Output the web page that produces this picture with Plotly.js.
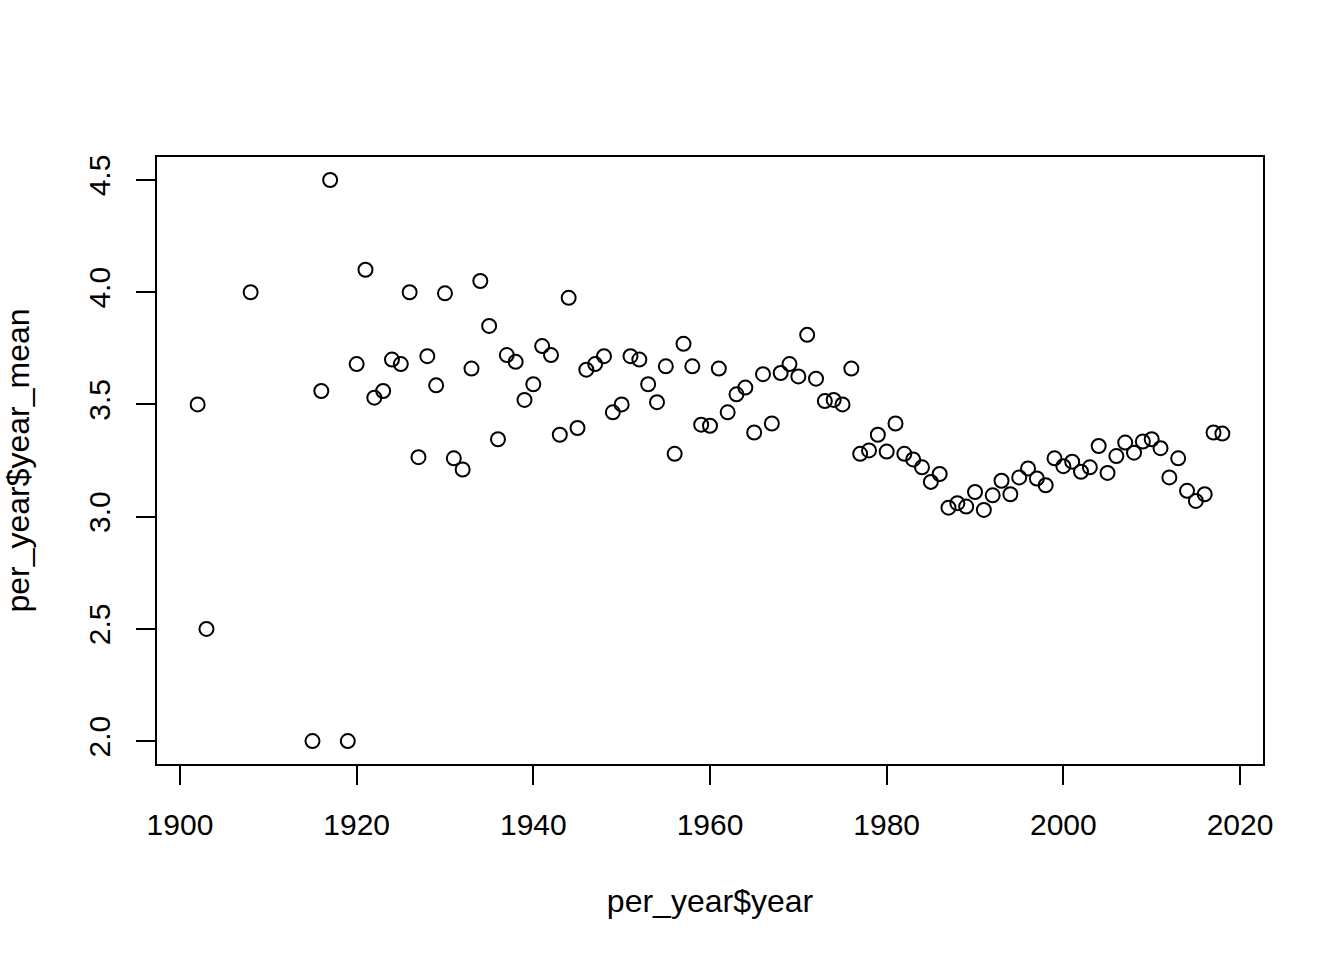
<!DOCTYPE html>
<html>
<head>
<meta charset="utf-8">
<script src="https://cdn.plot.ly/plotly-3.0.1.min.js"></script>
<style>html,body{margin:0;padding:0;background:#fff;}#chart{width:1344px;height:960px;}</style>
</head>
<body>
<div id="chart"></div>
<script>
const years = [1902,1903,1908,1915,1916,1917,1919,1920,1921,1922,1923,1924,1925,1926,1927,1928,1929,1930,
1931,1932,1933,1934,1935,1936,1937,1938,1939,1940,1941,1942,1943,1944,1945,1946,1947,1948,1949,1950,
1951,1952,1953,1954,1955,1956,1957,1958,1959,1960,1961,1962,1963,1964,1965,1966,1967,1968,1969,1970,
1971,1972,1973,1974,1975,1976,1977,1978,1979,1980,1981,1982,1983,1984,1985,1986,1987,1988,1989,1990,
1991,1992,1993,1994,1995,1996,1997,1998,1999,2000,2001,2002,2003,2004,2005,2006,2007,2008,2009,2010,
2011,2012,2013,2014,2015,2016,2017,2018];
const yearMean = [3.50,2.50,4.00,2.00,3.56,4.50,2.00,3.68,4.10,3.53,3.56,3.70,3.68,4.00,3.265,3.715,3.585,3.995,
3.26,3.21,3.66,4.05,3.85,3.345,3.72,3.69,3.52,3.59,3.76,3.72,3.365,3.975,3.395,3.655,3.68,3.715,3.465,3.50,
3.715,3.70,3.59,3.51,3.67,3.28,3.77,3.67,3.41,3.405,3.66,3.465,3.545,3.575,3.375,3.635,3.415,3.64,3.68,3.625,
3.81,3.615,3.515,3.52,3.50,3.66,3.28,3.295,3.365,3.29,3.415,3.28,3.255,3.22,3.155,3.19,3.04,3.06,3.045,3.11,
3.03,3.095,3.16,3.10,3.175,3.215,3.17,3.14,3.26,3.225,3.245,3.20,3.22,3.315,3.195,3.27,3.33,3.285,3.335,3.345,
3.305,3.175,3.26,3.115,3.07,3.10,3.375,3.37];
const xTicks = [1900,1920,1940,1960,1980,2000,2020];
const yTicks = [2.0,2.5,3.0,3.5,4.0,4.5];
const yTickText = ["2.0","2.5","3.0","3.5","4.0","4.5"];
const xLabel = "per_year$year";
const yLabel = "per_year$year_mean";

const tickFont = {family: "Liberation Sans, Arial, Helvetica, sans-serif", size: 30, color: "#000"};
const titleFont = {family: "Liberation Sans, Arial, Helvetica, sans-serif", size: 32, color: "#000"};

const trace = {
  x: years, y: yearMean, type: "scatter", mode: "markers",
  marker: {symbol: "circle-open", size: 14, color: "#000", line: {width: 2, color: "#000"}},
  hoverinfo: "x+y"
};

const layout = {
  width: 1344, height: 960,
  paper_bgcolor: "#fff", plot_bgcolor: "#fff",
  showlegend: false,
  font: tickFont,
  margin: {l: 157, r: 81, t: 157, b: 196, pad: 0},
  xaxis: {
    range: [1897.4, 2022.6], tickvals: xTicks, ticktext: xTicks.map(String),
    showgrid: false, zeroline: false, showline: true, linecolor: "#000", linewidth: 2, mirror: true,
    ticks: "outside", ticklen: 19, tickwidth: 2, tickcolor: "#000",
    ticklabelstandoff: 14, tickfont: tickFont,
    title: {text: xLabel, font: titleFont, standoff: 50},
    automargin: false
  },
  yaxis: {
    range: [1.898, 4.6025], tickvals: yTicks, ticktext: yTickText, tickangle: -90,
    showgrid: false, zeroline: false, showline: true, linecolor: "#000", linewidth: 2, mirror: true,
    ticks: "outside", ticklen: 19, tickwidth: 2, tickcolor: "#000",
    ticklabelstandoff: 14, tickfont: tickFont,
    title: {text: yLabel, font: titleFont, standoff: 54},
    automargin: false
  }
};

Plotly.newPlot("chart", [trace], layout, {displayModeBar: false, staticPlot: true});
</script>
</body>
</html>
